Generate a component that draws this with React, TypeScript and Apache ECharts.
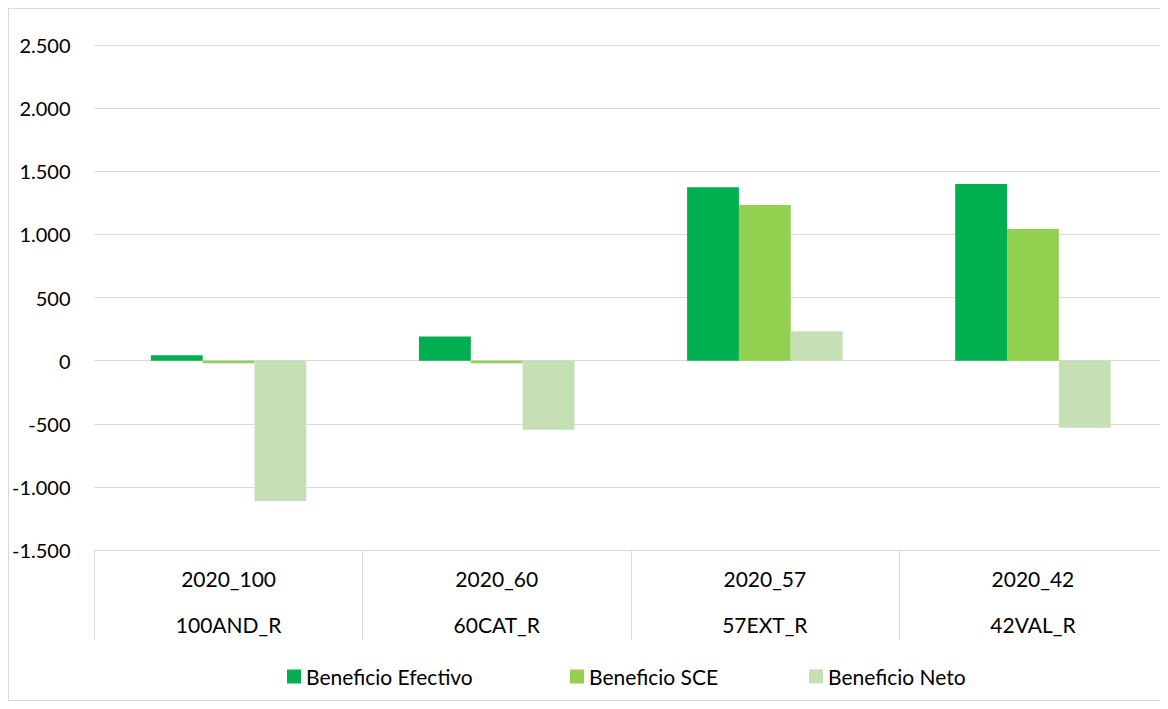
import React, { useEffect, useRef } from "react";
import * as echarts from "echarts";

const codes = ["2020_100", "2020_60", "2020_57", "2020_42"];
const names = ["100AND_R", "60CAT_R", "57EXT_R", "42VAL_R"];
const efectivo = [42, 192, 1373, 1399];
const sce = [-20, -20, 1233, 1043];
const neto = [-1111, -547, 232, -532];
const yTicks = [-1500, 2500, 500];

const seriesNames = ["Beneficio Efectivo", "Beneficio SCE", "Beneficio Neto"];
const colors = ["#00B050", "#92D050", "#C5E0B4"];

const FONT = "Lato";

export default function App() {
  const ref = useRef<HTMLDivElement>(null);
  useEffect(() => {
    if (!ref.current) return;
    const chart = echarts.init(ref.current, undefined, { renderer: "svg" });
    const cats = codes.map((c, i) => c + "\n" + names[i]);
    const legendLefts = [278, 561, 800];
    chart.setOption({
      animation: false,
      textStyle: { fontFamily: FONT },
      grid: { left: 85, right: 0, top: 36, bottom: 150 },
      legend: seriesNames.map((n, i) => ({
        data: [n],
        left: legendLefts[i],
        top: 657,
        padding: 0,
        itemWidth: 14,
        itemHeight: 14,
        itemGap: 7,
        icon: "rect",
        textStyle: { fontSize: 21, color: "#000", fontFamily: FONT },
      })),
      xAxis: {
        type: "category",
        data: cats,
        axisLine: { onZero: false, lineStyle: { color: "#d9d9d9" } },
        axisTick: { show: true, length: 90, interval: 0, lineStyle: { color: "#d9d9d9" } },
        axisLabel: {
          interval: 0,
          margin: 5,
          lineHeight: 46,
          fontSize: 21,
          color: "#000",
          fontFamily: FONT,
        },
      },
      yAxis: {
        type: "value",
        min: yTicks[0],
        max: yTicks[1],
        interval: yTicks[2],
        axisLine: { show: false },
        axisTick: { show: false },
        splitLine: { lineStyle: { color: "#d9d9d9" } },
        axisLabel: {
          margin: 24,
          fontSize: 20,
          color: "#000",
          fontFamily: FONT,
          formatter: (v: number) => {
            const s = Math.abs(v).toString().replace(/\B(?=(\d{3})+(?!\d))/g, ".");
            return (v < 0 ? "-" : "") + s;
          },
        },
      },
      series: [efectivo, sce, neto].map((d, i) => ({
        name: seriesNames[i],
        type: "bar",
        data: d,
        barGap: "0%",
        barCategoryGap: "42%",
        itemStyle: { color: colors[i] },
      })),
    });
    return () => chart.dispose();
  }, []);
  return (
    <div
      ref={ref}
      style={{
        width: 1160,
        height: 693,
        border: "1px solid #d9d9d9",
        boxSizing: "border-box",
      }}
    />
  );
}
